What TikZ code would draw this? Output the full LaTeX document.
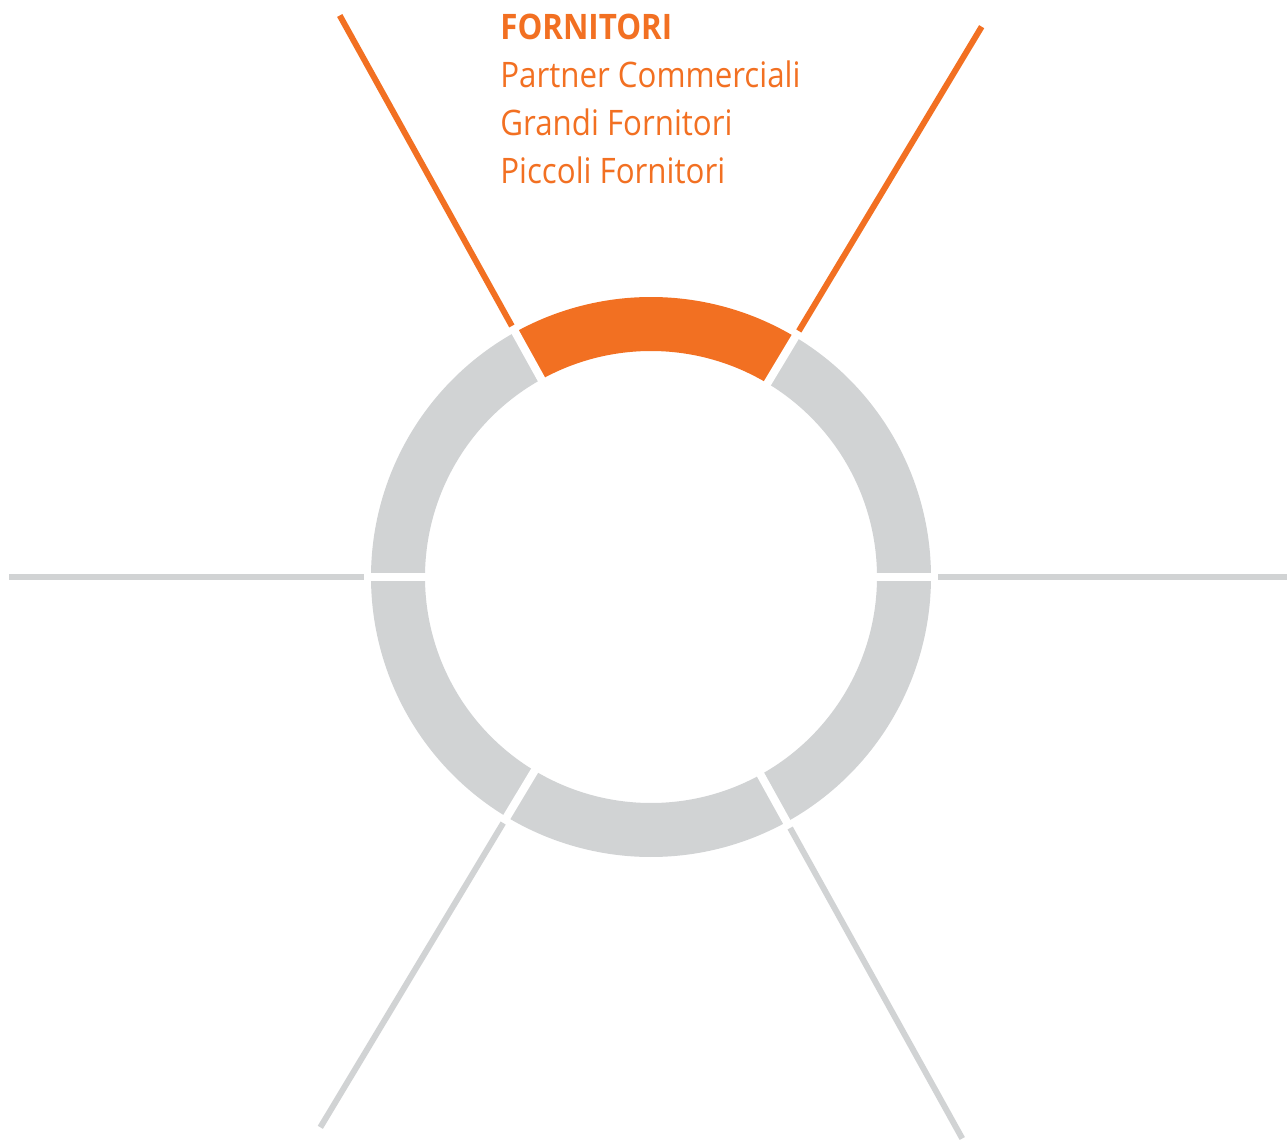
\documentclass[tikz,border=0pt]{standalone}
\usepackage{fontspec}
\setmainfont{Open Sans}[FakeStretch=0.89]
\definecolor{fornorange}{RGB}{242,112,34}
\definecolor{ringgray}{RGB}{209,211,212}

\begin{document}
\begin{tikzpicture}[
		x=0.02cm, y=0.02cm,
		declare function={
			ri=226; % inner radius of the ring
			ro=280; % outer radius of the ring
			rs=287; % where the spokes start
			re=642; % where the spokes end
		},
		spoke/.style={line width=3.4pt, ringgray},
		hot/.style={fornorange},
		gapline/.style={line width=4.6pt, white},
		every node/.style={inner sep=0pt, anchor=base west, text=fornorange, font=\fontsize{20}{24}\selectfont}
		]
		
		\useasboundingbox (-651,-562) rectangle (636,577);
		
		% ring sectors
		\foreach \a/\b/\c in {0/59/ringgray, 59/119/fornorange, 119/180/ringgray, 180/239/ringgray, 239/299/ringgray, 299/360/ringgray} {
			\fill[\c] (\a:ro) arc[start angle=\a, end angle=\b, radius=ro]
				-- (\b:ri) arc[start angle=\b, end angle=\a, radius=ri] -- cycle;
		}
		
		% white cuts and spokes
		\foreach \a/\s in {0/spoke, 59/hot, 119/hot, 180/spoke, 239/spoke, 299/spoke} {
			\draw[gapline] (\a:ri-6) -- (\a:ro+4);
			\path (\a:rs) coordinate (S\a) (\a:re) coordinate (E\a);
			\draw[spoke, \s] (S\a) -- (E\a);
		}
		
		\node[font=\fontsize{20}{24}\selectfont\bfseries] (title) at (-151,537) {FORNITORI};
		\node (partner) at (-151,489) {Partner Commerciali};
		\node (grandi) at (-151,441) {Grandi Fornitori};
		\node (piccoli) at (-151,393) {Piccoli Fornitori};
		
	\end{tikzpicture}
\end{document}
